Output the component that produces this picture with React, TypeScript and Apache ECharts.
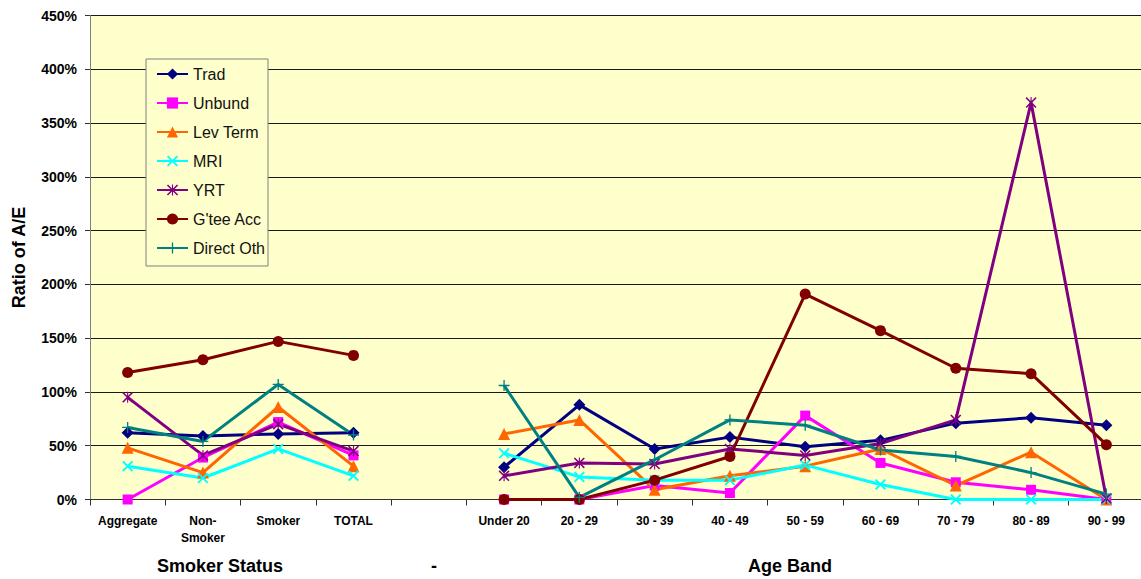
import React, { useEffect, useRef } from "react";
import * as echarts from "echarts";

const FONT = "'Liberation Sans', Arial, sans-serif";

// Category axis: smoker-status groups, an empty spacer, then age bands
const categories = [
  "Aggregate", "Non-\nSmoker", "Smoker", "TOTAL", "",
  "Under 20", "20 - 29", "30 - 39", "40 - 49", "50 - 59",
  "60 - 69", "70 - 79", "80 - 89", "90 - 99",
];

// Ratio of actual to expected, in percent
const trad = [62, 59, 61, 62, null, 30, 88, 47, 58, 49, 55, 71, 76, 69];
const unbund = [0, 39, 72, 41, null, 0, 0, 13, 6, 78, 34, 16, 9, 0];
const levTerm = [48, 25, 86, 31, null, 61, 74, 9, 22, 31, 47, 13, 44, 0];
const mri = [31, 20, 47, 22, null, 43, 21, 18, 18, 32, 14, 0, 0, 0];
const yrt = [95, 41, 70, 45, null, 22, 34, 33, 47, 41, 52, 74, 369, 1];
const gteeAcc = [118, 130, 147, 134, null, 0, 0, 18, 40, 191, 157, 122, 117, 51];
const directOth = [67, 54, 107, 60, null, 106, 2, 37, 74, 69, 46, 40, 25, 5];

const groupLabels = ["Smoker Status", "-", "Age Band"];

const X_SYMBOL = "path://M0,1.2L1.2,0L5,3.8L8.8,0L10,1.2L6.2,5L10,8.8L8.8,10L5,6.2L1.2,10L0,8.8L3.8,5Z";
const PLUS_SYMBOL = "path://M4.4,0H5.6V4.4H10V5.6H5.6V10H4.4V5.6H0V4.4H4.4Z";
const STAR_SYMBOL =
  "path://M0,1L1,0L5,4L9,0L10,1L6,5L10,9L9,10L5,6L1,10L0,9L4,5Z M4.5,0H5.5V10H4.5Z";

const seriesDefs = [
  { name: "Trad", data: trad, color: "#000080", symbol: "diamond", size: 12 },
  { name: "Unbund", data: unbund, color: "#FF00FF", symbol: "rect", size: 10 },
  { name: "Lev Term", data: levTerm, color: "#FF6600", symbol: "triangle", size: 12 },
  { name: "MRI", data: mri, color: "#00FFFF", symbol: X_SYMBOL, size: 11 },
  { name: "YRT", data: yrt, color: "#800080", symbol: STAR_SYMBOL, size: 11 },
  { name: "G'tee Acc", data: gteeAcc, color: "#800000", symbol: "circle", size: 11 },
  { name: "Direct Oth", data: directOth, color: "#008080", symbol: PLUS_SYMBOL, size: 11 },
];

function groupText(text: string, x: number) {
  return {
    type: "text",
    x,
    y: 566,
    style: {
      text,
      fontSize: 18,
      fontWeight: "bold",
      fontFamily: FONT,
      fill: "#000",
      align: "center",
      verticalAlign: "middle",
    },
  };
}

export default function App() {
  const ref = useRef<HTMLDivElement>(null);

  useEffect(() => {
    if (!ref.current) return;
    const chart = echarts.init(ref.current, null, { renderer: "svg" });
    chart.setOption({
      animation: false,
      backgroundColor: "#FFFFFF",
      textStyle: { fontFamily: FONT },
      grid: {
        left: 90,
        top: 15.5,
        right: -3,
        bottom: 79.5,
        containLabel: false,
        outerBoundsMode: "none",
        show: true,
        backgroundColor: "#FFFFCC",
        borderWidth: 0,
      },
      legend: {
        orient: "vertical",
        left: 146,
        top: 59,
        padding: [6, 3, 9, 10],
        itemGap: 11,
        itemWidth: 31,
        itemHeight: 14,
        backgroundColor: "#FFFFCC",
        borderColor: "#808080",
        borderWidth: 1,
        textStyle: { fontSize: 16, lineHeight: 18, fontFamily: FONT, color: "#111" },
        data: seriesDefs.map((s) => s.name),
      },
      xAxis: {
        type: "category",
        data: categories,
        boundaryGap: true,
        axisLine: { show: true, lineStyle: { color: "#333", width: 1 } },
        axisTick: {
          show: true,
          interval: 0,
          alignWithLabel: false,
          length: 6,
          lineStyle: { color: "#333" },
        },
        axisLabel: {
          interval: 0,
          margin: 13,
          fontSize: 12,
          fontWeight: "bold",
          fontFamily: FONT,
          color: "#000",
          lineHeight: 17,
        },
        splitLine: { show: false },
      },
      yAxis: {
        type: "value",
        min: 0,
        max: 450,
        interval: 50,
        name: "Ratio of A/E",
        nameLocation: "middle",
        nameGap: 62,
        nameRotate: 90,
        nameTextStyle: { fontSize: 18, fontWeight: "bold", fontFamily: FONT, color: "#000" },
        axisLine: { show: true, lineStyle: { color: "#808080", width: 1 } },
        axisTick: { show: true, length: 5, lineStyle: { color: "#333" } },
        axisLabel: {
          formatter: "{value}%",
          margin: 13,
          fontSize: 14,
          fontWeight: "bold",
          fontFamily: FONT,
          color: "#000",
        },
        splitLine: { show: true, lineStyle: { color: "#1a1a1a", width: 1 } },
      },
      series: seriesDefs.map((s) => ({
        name: s.name,
        type: "line",
        data: s.data,
        connectNulls: false,
        symbol: s.symbol,
        symbolSize: s.size,
        showAllSymbol: true,
        lineStyle: { color: s.color, width: 3 },
        itemStyle: { color: s.color, borderWidth: 0 },
        emphasis: { disabled: true },
      })),
      graphic: [
        groupText(groupLabels[0], 220),
        groupText(groupLabels[1], 434),
        groupText(groupLabels[2], 790),
      ],
    });
    return () => chart.dispose();
  }, []);

  return (
    <div
      ref={ref}
      style={{ position: "fixed", left: 0, top: 0, width: 1141, height: 579 }}
    />
  );
}
